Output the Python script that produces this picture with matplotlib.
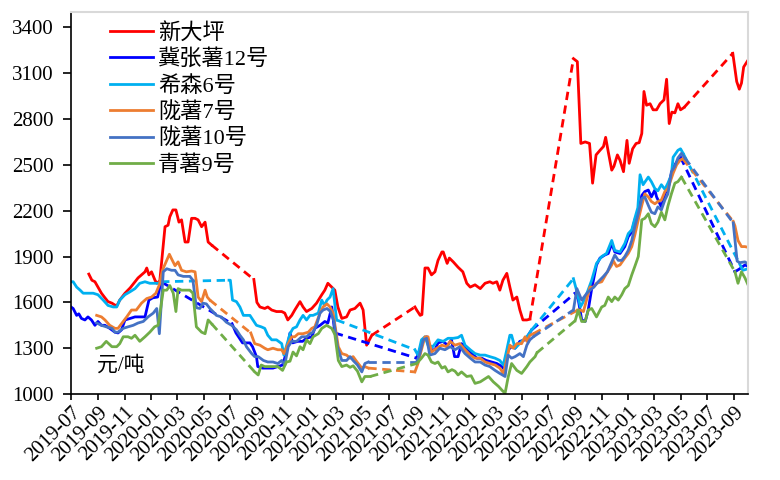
import numpy as np
import pandas as pd
import matplotlib
matplotlib.use('Agg')
from matplotlib import pyplot as plt
import matplotlib.dates as mdates

plt.rcParams['font.family'] = ['Liberation Serif', 'Noto Sans CJK SC']

names = ['新大坪', '冀张薯12号', '希森6号', '陇薯7号', '陇薯10号', '青薯9号']
colors = ['#ff0000', '#0000ff', '#00b0f0', '#ed7d31', '#4472c4', '#70ad47']

# None marks a gap in the weekly price records (drawn dashed)
xdp_dates = ['2019-08-11', '2019-08-18', '2019-08-25', '2019-09-01', '2019-09-09', '2019-09-17', '2019-09-24',
             '2019-10-03', '2019-10-14', '2019-10-21', '2019-11-02', '2019-11-14', '2019-11-25', '2019-12-02',
             '2019-12-10', '2019-12-18', '2019-12-22', '2019-12-27', '2020-01-02', '2020-01-10', '2020-01-14',
             '2020-01-21', '2020-02-02', '2020-02-09', '2020-02-13', '2020-02-20', '2020-02-27', '2020-03-05',
             '2020-03-11', '2020-03-19', '2020-03-26', '2020-04-03', '2020-04-11', '2020-04-18', '2020-04-26',
             '2020-05-04', '2020-05-11', '2020-05-19', None,
             '2020-08-24', '2020-08-31', '2020-09-07', '2020-09-18', '2020-09-25', '2020-10-04', '2020-10-15',
             '2020-10-27', '2020-11-03', '2020-11-10', '2020-11-19', '2020-11-26', '2020-12-08', '2020-12-15',
             '2020-12-23', '2021-01-04', '2021-01-15', '2021-01-27', '2021-02-03', '2021-02-10', '2021-02-19',
             '2021-02-26', '2021-03-05', '2021-03-14', '2021-03-25', '2021-04-02', '2021-04-13', '2021-04-25',
             '2021-05-02', '2021-05-10', '2021-05-22', None,
             '2021-08-29', '2021-09-02', '2021-09-10', '2021-09-14', '2021-09-21', '2021-09-28', '2021-10-06',
             '2021-10-14', '2021-10-21', '2021-10-30', '2021-11-02', '2021-11-11', '2021-11-16', '2021-11-25',
             '2021-12-06', '2021-12-17', '2021-12-26', '2022-01-03', '2022-01-14', '2022-01-26', '2022-02-06',
             '2022-02-17', '2022-02-24', '2022-03-05', '2022-03-12', '2022-03-19', '2022-03-28', '2022-04-04',
             '2022-04-11', '2022-04-20', '2022-04-27', '2022-05-04', '2022-05-13', '2022-05-20', None,
             '2022-08-28', '2022-09-06', '2022-09-14', '2022-09-24', '2022-10-04', '2022-10-11', '2022-10-19',
             '2022-10-28', '2022-11-05', '2022-11-10', '2022-11-16', '2022-11-24', '2022-11-29', '2022-12-07',
             '2022-12-13', '2022-12-21', '2022-12-29', '2023-01-03', '2023-01-11', '2023-01-19', '2023-01-26',
             '2023-02-01', '2023-02-06', '2023-02-12', '2023-02-20', '2023-02-27', '2023-03-07', '2023-03-15',
             '2023-03-24', '2023-03-30', '2023-04-05', '2023-04-11', '2023-04-18', '2023-04-25', '2023-05-01',
             '2023-05-09', None,
             '2023-08-29', '2023-09-07', '2023-09-13', '2023-09-18', '2023-09-23', '2023-10-03']
xdp_vals = [1785, 1745, 1735, 1700, 1660, 1630, 1605,
            1595, 1575, 1615, 1660, 1695, 1735, 1760,
            1780, 1800, 1825, 1780, 1800, 1745, 1725,
            1740, 2095, 2105, 2160, 2205, 2205, 2125,
            2140, 1995, 1995, 2150, 2150, 2140, 2095,
            2125, 1995, 1975, None,
            1750, 1600, 1570, 1560, 1570, 1550, 1540,
            1540, 1530, 1485, 1515, 1550, 1605, 1570,
            1540, 1560, 1595, 1650, 1680, 1725, 1700,
            1680, 1570, 1495, 1505, 1550, 1560, 1595,
            1550, 1320, 1385, None,
            1570, 1550, 1515, 1520, 1825, 1825, 1780,
            1800, 1875, 1930, 1930, 1855, 1890, 1865,
            1830, 1800, 1725, 1700, 1715, 1690, 1725,
            1735, 1725, 1735, 1680, 1745, 1790, 1700,
            1615, 1635, 1550, 1485, 1485, 1490, None,
            3195, 3175, 2640, 2650, 2640, 2380, 2565,
            2595, 2620, 2680, 2585, 2465, 2490, 2565,
            2530, 2455, 2660, 2510, 2605, 2640, 2645,
            2705, 2980, 2890, 2900, 2860, 2860, 2900,
            2925, 3060, 2770, 2845, 2840, 2900, 2860,
            2875, None,
            3230, 3045, 2995, 3035, 3140, 3185]

jz12_dates = ['2019-07-01', '2019-07-06', '2019-07-14', '2019-07-19', '2019-07-25', '2019-08-02', '2019-08-09',
              '2019-08-17', '2019-08-25', '2019-09-01', '2019-09-09', '2019-09-17', '2019-09-28', '2019-10-10',
              '2019-10-17', '2019-10-25', '2019-11-02', '2019-11-14', '2019-11-25', '2019-12-06', '2019-12-18',
              '2019-12-27', '2020-01-05', '2020-01-16', '2020-01-24', None,
              '2020-07-05', '2020-07-14', '2020-07-29', '2020-08-15', '2020-08-21', '2020-08-30', '2020-09-02',
              '2020-09-13', '2020-09-25', '2020-10-07', '2020-10-18', '2020-10-29', '2020-11-07', '2020-11-15',
              '2020-11-21', '2020-12-03', '2020-12-14', '2020-12-23', '2021-01-04', '2021-01-11', '2021-01-23',
              '2021-02-03', '2021-02-10', '2021-02-19', '2021-02-26', None,
              '2021-09-02', '2021-09-17', '2021-09-25', '2021-10-02', '2021-10-14', '2021-10-21', '2021-11-01',
              '2021-11-12', '2021-11-21', '2021-11-28', '2021-12-06', '2021-12-14', '2021-12-26', '2022-01-05',
              '2022-01-18', '2022-01-29', '2022-02-09', '2022-02-21', '2022-03-05', '2022-03-17', '2022-03-24',
              '2022-03-31', '2022-04-08', '2022-04-16', '2022-04-27', '2022-05-09', '2022-05-16', '2022-05-24', None,
              '2022-09-01', '2022-09-08', '2022-09-16', '2022-09-24', '2022-10-01', '2022-10-09', '2022-10-20',
              '2022-10-28', '2022-11-08', '2022-11-16', '2022-11-24', '2022-12-01', '2022-12-13', '2022-12-24',
              '2023-01-01', '2023-01-09', '2023-01-16', '2023-01-24', '2023-02-01', '2023-02-08', '2023-02-16',
              '2023-02-23', '2023-03-03', '2023-03-07', '2023-03-18', '2023-03-26', '2023-04-02', '2023-04-10',
              '2023-04-18', '2023-04-25', '2023-05-01', None,
              '2023-09-03', '2023-09-14', '2023-09-26', '2023-10-03']
jz12_vals = [1570, 1560, 1515, 1525, 1495, 1485, 1505,
             1485, 1450, 1475, 1450, 1450, 1430, 1405,
             1400, 1420, 1485, 1495, 1505, 1505, 1505,
             1615, 1630, 1635, 1735, None,
             1460, 1400, 1335, 1335, 1310, 1245, 1180,
             1170, 1170, 1170, 1180, 1190, 1275, 1400,
             1335, 1345, 1345, 1365, 1375, 1430, 1450,
             1475, 1465, 1570, 1400, None,
             1235, 1355, 1375, 1290, 1290, 1335, 1345,
             1320, 1355, 1245, 1245, 1330, 1300, 1270,
             1235, 1235, 1220, 1210, 1200, 1180, 1155,
             1290, 1310, 1300, 1345, 1355, 1385, 1420, None,
             1660, 1620, 1485, 1475, 1550, 1690, 1845,
             1890, 1910, 1920, 1985, 1930, 1920, 1965,
             2030, 2060, 2140, 2190, 2300, 2325, 2335,
             2290, 2335, 2290, 2225, 2310, 2345, 2445,
             2500, 2530, 2550, None,
             1800, 1820, 1845, 1835]

xs6_dates = ['2019-07-01', '2019-07-06', '2019-07-14', '2019-07-22', '2019-07-29', '2019-08-10', '2019-08-21',
             '2019-09-01', '2019-09-13', '2019-09-24', '2019-10-06', '2019-10-14', '2019-10-21', '2019-11-02',
             '2019-11-14', '2019-11-25', '2019-12-06', '2019-12-18', '2019-12-29', '2020-01-09', '2020-01-17',
             '2020-01-24', None,
             '2020-06-28', '2020-07-01', '2020-07-06', '2020-07-15', '2020-07-23', '2020-07-31', '2020-08-15',
             '2020-08-30', '2020-09-10', '2020-09-18', '2020-09-25', '2020-10-04', '2020-10-15', '2020-10-27',
             '2020-11-01', '2020-11-15', '2020-11-22', '2020-11-30', '2020-12-08', '2020-12-15', '2020-12-23',
             '2020-12-31', '2021-01-07', '2021-01-19', '2021-01-27', '2021-02-02', '2021-02-08', '2021-02-15',
             '2021-02-22', '2021-03-02', None,
             '2021-08-29', '2021-09-05', '2021-09-13', '2021-09-21', '2021-09-28', '2021-10-09', '2021-10-21',
             '2021-11-02', '2021-11-13', '2021-11-25', '2021-12-06', '2021-12-14', '2021-12-22', '2022-01-03',
             '2022-01-14', '2022-01-26', '2022-02-06', '2022-02-17', '2022-03-01', '2022-03-12', '2022-03-20',
             '2022-03-28', '2022-04-04', '2022-04-08', '2022-04-16', '2022-04-23', '2022-05-01', '2022-05-09',
             '2022-05-16', '2022-05-24', None,
             '2022-08-28', '2022-09-05', '2022-09-13', '2022-09-19', '2022-09-28', '2022-10-09', '2022-10-20',
             '2022-11-01', '2022-11-12', '2022-11-24', '2022-12-01', '2022-12-13', '2022-12-24', '2023-01-01',
             '2023-01-09', '2023-01-16', '2023-01-23', '2023-01-28', '2023-02-04', '2023-02-16', '2023-02-23',
             '2023-03-03', '2023-03-10', '2023-03-18', '2023-03-26', '2023-04-02', '2023-04-10', '2023-04-14',
             '2023-04-25', '2023-05-01', '2023-05-07', None,
             '2023-09-14', '2023-09-21', '2023-10-03']
xs6_vals = [1735, 1735, 1700, 1680, 1660, 1660, 1660,
            1650, 1615, 1580, 1570, 1570, 1615, 1650,
            1670, 1690, 1725, 1735, 1725, 1725, 1725,
            1735, None,
            1745, 1745, 1615, 1605, 1570, 1515, 1515,
            1450, 1440, 1430, 1385, 1355, 1355, 1330,
            1255, 1395, 1430, 1440, 1485, 1515, 1485,
            1515, 1515, 1530, 1615, 1580, 1615, 1635,
            1690, 1485, None,
            1290, 1255, 1355, 1375, 1320, 1310, 1355,
            1345, 1365, 1365, 1370, 1385, 1320, 1290,
            1265, 1255, 1255, 1245, 1235, 1220, 1190,
            1290, 1385, 1385, 1300, 1320, 1345, 1365,
            1385, 1420, None,
            1755, 1670, 1570, 1600, 1660, 1745, 1855,
            1900, 1920, 2005, 1940, 1930, 1985, 2050,
            2075, 2150, 2220, 2435, 2370, 2420, 2390,
            2345, 2330, 2370, 2340, 2380, 2435, 2550,
            2595, 2605, 2575, None,
            1850, 1810, 1820]

ls7_dates = ['2019-08-29', '2019-09-09', '2019-09-17', '2019-09-28', '2019-10-10', '2019-10-17', '2019-10-25',
             '2019-11-06', '2019-11-17', '2019-11-28', '2019-12-10', '2019-12-22', '2020-01-02', '2020-01-12',
             '2020-01-20', '2020-01-27', '2020-02-06', '2020-02-12', '2020-02-17', '2020-02-25', '2020-03-03',
             '2020-03-11', '2020-03-22', '2020-04-03', '2020-04-11', '2020-04-18', '2020-04-26', '2020-05-04',
             '2020-05-09', '2020-05-15', None,
             '2020-08-17', '2020-08-26', '2020-09-07', '2020-09-18', '2020-09-25', '2020-10-07', '2020-10-18',
             '2020-10-27', '2020-11-01', '2020-11-11', '2020-11-19', '2020-11-26', '2020-12-04', '2020-12-15',
             '2020-12-27', '2021-01-04', '2021-01-11', '2021-01-23', '2021-01-30', '2021-02-08', '2021-02-15',
             '2021-02-22', '2021-03-06', '2021-03-14', '2021-03-25', '2021-04-02', '2021-04-09', '2021-04-18',
             '2021-04-29', '2021-05-06', '2021-05-14', None,
             '2021-08-29', '2021-09-05', '2021-09-12', '2021-09-21', '2021-09-28', '2021-10-06', '2021-10-18',
             '2021-10-30', '2021-11-10', '2021-11-18', '2021-11-29', '2021-12-10', '2021-12-22', '2022-01-03',
             '2022-01-14', '2022-01-26', '2022-02-06', '2022-02-17', '2022-03-01', '2022-03-12', '2022-03-20',
             '2022-03-28', '2022-04-04', '2022-04-12', '2022-04-20', '2022-05-01', '2022-05-09', '2022-05-13',
             '2022-05-20', '2022-05-28', None,
             '2022-09-07', '2022-09-13', '2022-09-20', '2022-09-28', '2022-10-05', '2022-10-13', '2022-10-20',
             '2022-11-01', '2022-11-12', '2022-11-24', '2022-11-27', '2022-12-05', '2022-12-13', '2022-12-24',
             '2023-01-01', '2023-01-09', '2023-01-16', '2023-01-24', '2023-02-01', '2023-02-08', '2023-02-16',
             '2023-02-23', '2023-03-03', '2023-03-10', '2023-03-18', '2023-03-26', '2023-04-02', '2023-04-14',
             '2023-04-22', '2023-04-30', '2023-05-06', None,
             '2023-08-30', '2023-09-03', '2023-09-10', '2023-09-18', '2023-09-26', '2023-10-03']
ls7_vals = [1515, 1505, 1485, 1450, 1430, 1430, 1460,
            1505, 1550, 1550, 1595, 1625, 1635, 1660,
            1715, 1810, 1875, 1915, 1885, 1840, 1865,
            1810, 1800, 1805, 1800, 1635, 1605, 1680,
            1635, 1615, None,
            1400, 1330, 1320, 1300, 1290, 1300, 1290,
            1290, 1265, 1330, 1375, 1375, 1395, 1395,
            1405, 1430, 1440, 1530, 1570, 1590, 1570,
            1530, 1310, 1265, 1255, 1235, 1245, 1210,
            1170, 1180, 1170, None,
            1145, 1200, 1280, 1375, 1375, 1275, 1300,
            1320, 1310, 1345, 1320, 1330, 1290, 1255,
            1235, 1235, 1210, 1200, 1190, 1170, 1135,
            1230, 1320, 1300, 1330, 1330, 1375, 1345,
            1385, 1395, None,
            1550, 1550, 1540, 1625, 1700, 1700, 1725,
            1735, 1790, 1845, 1875, 1835, 1845, 1890,
            1920, 1965, 2040, 2140, 2235, 2310, 2290,
            2260, 2245, 2260, 2270, 2325, 2345, 2445,
            2500, 2530, 2540, None,
            2130, 2100, 2005, 1965, 1965, 1960]

ls10_dates = ['2019-08-29', '2019-09-09', '2019-09-20', '2019-10-03', '2019-10-10', '2019-10-17', '2019-10-29',
              '2019-11-09', '2019-11-21', '2019-12-02', '2019-12-14', '2019-12-25', '2020-01-06', '2020-01-14',
              '2020-01-20', '2020-01-29', '2020-02-06', '2020-02-17', '2020-02-25', '2020-03-03', '2020-03-15',
              '2020-03-30', '2020-04-06', '2020-04-14', '2020-04-22', '2020-04-29', '2020-05-07', '2020-05-15',
              '2020-05-22', '2020-05-30', '2020-06-10', '2020-06-22', '2020-07-04', '2020-07-15', '2020-07-23',
              '2020-07-31', '2020-08-07', '2020-08-19', '2020-08-26', '2020-09-03', '2020-09-15', '2020-09-25',
              '2020-10-07', '2020-10-18', '2020-10-27', '2020-11-03', '2020-11-11', '2020-11-19', '2020-11-30',
              '2020-12-12', '2020-12-23', '2020-12-31', '2021-01-07', '2021-01-15', '2021-01-23', '2021-01-30',
              '2021-02-08', '2021-02-16', '2021-02-24', '2021-03-04', '2021-03-14', '2021-03-25', '2021-04-02',
              '2021-04-09', '2021-04-19', '2021-04-29', '2021-05-06', '2021-05-14', None,
              '2021-09-02', '2021-09-09', '2021-09-17', '2021-09-25', '2021-10-02', '2021-10-14', '2021-10-25',
              '2021-11-06', '2021-11-18', '2021-11-29', '2021-12-10', '2021-12-22', '2022-01-03', '2022-01-14',
              '2022-01-26', '2022-02-06', '2022-02-17', '2022-03-01', '2022-03-12', '2022-03-24', '2022-03-31',
              '2022-04-08', '2022-04-16', '2022-04-27', '2022-05-05', '2022-05-13', '2022-05-20', '2022-05-28', None,
              '2022-08-28', '2022-09-05', '2022-09-16', '2022-09-28', '2022-10-05', '2022-10-14', '2022-10-24',
              '2022-11-05', '2022-11-14', '2022-11-24', '2022-12-01', '2022-12-09', '2022-12-17', '2022-12-24',
              '2023-01-01', '2023-01-09', '2023-01-16', '2023-01-24', '2023-02-01', '2023-02-08', '2023-02-16',
              '2023-02-23', '2023-03-03', '2023-03-10', '2023-03-18', '2023-03-26', '2023-04-02', '2023-04-10',
              '2023-04-18', '2023-04-25', '2023-05-03', '2023-05-11', None,
              '2023-08-30', '2023-09-08', '2023-09-14', '2023-09-26', '2023-10-03']
ls10_vals = [1465, 1450, 1440, 1430, 1405, 1405, 1430,
             1440, 1450, 1465, 1475, 1505, 1530, 1560,
             1395, 1800, 1820, 1810, 1810, 1780, 1770,
             1770, 1745, 1565, 1560, 1595, 1590, 1560,
             1540, 1515, 1505, 1470, 1450, 1420, 1385,
             1355, 1310, 1265, 1245, 1245, 1220, 1210,
             1210, 1200, 1220, 1190, 1310, 1345, 1345,
             1375, 1375, 1395, 1405, 1450, 1530, 1550,
             1560, 1540, 1475, 1310, 1220, 1220, 1245,
             1220, 1190, 1145, 1200, 1210, None,
             1210, 1260, 1355, 1365, 1255, 1265, 1300,
             1290, 1310, 1290, 1310, 1265, 1235, 1210,
             1210, 1190, 1180, 1155, 1135, 1115, 1255,
             1235, 1245, 1265, 1245, 1320, 1355, 1375, None,
             1550, 1690, 1615, 1660, 1680, 1700, 1735,
             1770, 1800, 1865, 1910, 1875, 1875, 1900,
             1940, 2005, 2095, 2180, 2280, 2290, 2235,
             2190, 2180, 2225, 2205, 2270, 2310, 2455,
             2490, 2545, 2575, 2545, None,
             2120, 1870, 1860, 1865, 1850]

qs9_dates = ['2019-08-29', '2019-09-09', '2019-09-20', '2019-10-03', '2019-10-14', '2019-10-21', '2019-10-29',
             '2019-11-09', '2019-11-17', '2019-11-25', '2019-12-06', '2019-12-18', '2019-12-29', '2020-01-09',
             '2020-01-17', '2020-01-23', '2020-01-29', '2020-02-06', '2020-02-13', '2020-02-21', '2020-02-27',
             '2020-03-03', '2020-03-11', '2020-03-19', '2020-03-30', '2020-04-06', '2020-04-14', '2020-04-26',
             '2020-05-04', '2020-05-11', '2020-05-19', None,
             '2020-08-26', '2020-09-03', '2020-09-10', '2020-09-18', '2020-09-25', '2020-10-07', '2020-10-18',
             '2020-10-29', '2020-11-07', '2020-11-15', '2020-11-22', '2020-11-30', '2020-12-08', '2020-12-15',
             '2020-12-23', '2020-12-31', '2021-01-07', '2021-01-19', '2021-01-27', '2021-02-07', '2021-02-19',
             '2021-02-26', '2021-03-06', '2021-03-14', '2021-03-25', '2021-04-02', '2021-04-09', '2021-04-19',
             '2021-04-29', '2021-05-06', '2021-05-18', None,
             '2021-09-02', '2021-09-13', '2021-09-21', '2021-09-28', '2021-10-06', '2021-10-14', '2021-10-21',
             '2021-10-30', '2021-11-06', '2021-11-13', '2021-11-22', '2021-11-29', '2021-12-06', '2021-12-14',
             '2021-12-26', '2022-01-05', '2022-01-14', '2022-01-26', '2022-02-06', '2022-02-14', '2022-02-25',
             '2022-03-09', '2022-03-17', '2022-03-24', '2022-03-31', '2022-04-08', '2022-04-20', '2022-05-01',
             '2022-05-13', '2022-05-20', '2022-06-01', '2022-06-05', None,
             '2022-09-01', '2022-09-08', '2022-09-16', '2022-09-24', '2022-10-01', '2022-10-09', '2022-10-20',
             '2022-11-01', '2022-11-08', '2022-11-16', '2022-11-24', '2022-12-01', '2022-12-09', '2022-12-17',
             '2022-12-24', '2023-01-01', '2023-01-09', '2023-01-16', '2023-01-24', '2023-02-01', '2023-02-08',
             '2023-02-16', '2023-02-23', '2023-03-03', '2023-03-10', '2023-03-18', '2023-03-26', '2023-04-02',
             '2023-04-10', '2023-04-18', '2023-04-25', '2023-05-03', None,
             '2023-09-03', '2023-09-10', '2023-09-18', '2023-09-26', '2023-10-03']
qs9_vals = [1300, 1310, 1345, 1310, 1310, 1330, 1375,
            1375, 1365, 1385, 1345, 1375, 1405, 1440,
            1450, 1560, 1680, 1680, 1710, 1660, 1540,
            1690, 1680, 1680, 1680, 1660, 1440, 1405,
            1395, 1485, 1460, None,
            1145, 1125, 1190, 1180, 1180, 1180, 1180,
            1155, 1210, 1215, 1275, 1250, 1310, 1290,
            1355, 1330, 1375, 1395, 1430, 1450, 1430,
            1390, 1220, 1180, 1190, 1175, 1185, 1150,
            1080, 1115, 1115, None,
            1200, 1235, 1265, 1255, 1210, 1200, 1210,
            1170, 1180, 1145, 1160, 1150, 1125, 1145,
            1115, 1120, 1070, 1080, 1100, 1115, 1080,
            1050, 1025, 1005, 1110, 1200, 1155, 1135,
            1180, 1210, 1245, 1270, None,
            1480, 1550, 1475, 1475, 1550, 1560, 1505,
            1570, 1580, 1635, 1605, 1635, 1615, 1650,
            1690, 1710, 1780, 1835, 1900, 2140, 2150,
            2180, 2115, 2095, 2125, 2190, 2140, 2230,
            2310, 2380, 2390, 2420, None,
            1800, 1725, 1800, 1760, 1715]

yticks = [1000, 1300, 1600, 1900, 2200, 2500, 2800, 3100, 3400]
unit_label = '元/吨'

series = [(xdp_dates, xdp_vals), (jz12_dates, jz12_vals), (xs6_dates, xs6_vals),
          (ls7_dates, ls7_vals), (ls10_dates, ls10_vals), (qs9_dates, qs9_vals)]

fig = plt.figure(figsize=(7.8, 4.8), dpi=100)
ax = fig.add_axes([0.091, 0.179, 0.868, 0.796])

for (d, v), name, c in zip(series, names, colors):
    dt = pd.to_datetime(pd.Series(d))
    val = pd.Series(v, dtype=float)
    ax.plot(dt, val, color=c, lw=2.0, label=name, solid_joinstyle='round')
    # dashed bridge across each gap
    for i in np.where(val.isna())[0]:
        ax.plot([dt[i - 1], dt[i + 1]], [val[i - 1], val[i + 1]], color=c, lw=2.0,
                linestyle=(0, (3, 2)), dash_capstyle='butt')

ax.set_xlim(pd.Timestamp('2019-07-01'), pd.Timestamp('2023-10-03'))
ax.set_ylim(1000, 3500)
ax.set_yticks(yticks)
ax.xaxis.set_major_locator(mdates.MonthLocator(bymonth=[1, 3, 5, 7, 9, 11]))
ax.xaxis.set_major_formatter(mdates.DateFormatter('%Y-%m'))
plt.setp(ax.get_xticklabels(), rotation=45, ha='right', rotation_mode='anchor')
ax.tick_params(axis='both', labelsize=15, direction='out', width=1.2)
ax.tick_params(axis='x', length=4.5, pad=2)
ax.tick_params(axis='y', length=5.5, pad=7)

for s in ['top', 'right']:
    ax.spines[s].set_color('#d9d9d9')
    ax.spines[s].set_linewidth(1.5)
for s in ['left', 'bottom']:
    ax.spines[s].set_color('black')
    ax.spines[s].set_linewidth(1.2)

ax.text(0.038, 0.06, unit_label, transform=ax.transAxes, fontsize=15)

ax.legend(loc='upper left', bbox_to_anchor=(0.045, 0.995), frameon=False, fontsize=16,
          handlelength=1.9, handletextpad=0.25, labelspacing=0.25, borderaxespad=0)

fig.savefig('out.png', dpi=100)
